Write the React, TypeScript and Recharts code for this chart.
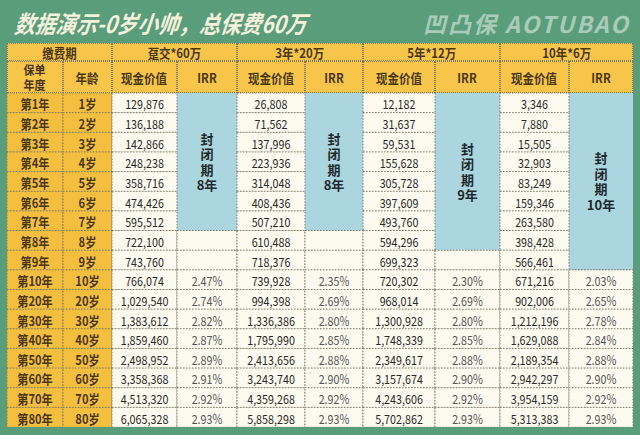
import React from 'react'
import { BarChart, Bar, XAxis, YAxis, ReferenceArea } from 'recharts'

const YEARS = ['第1年', '第2年', '第3年', '第4年', '第5年', '第6年', '第7年', '第8年', '第9年', '第10年', '第20年', '第30年', '第40年', '第50年', '第60年', '第70年', '第80年']
const AGES = ['1岁', '2岁', '3岁', '4岁', '5岁', '6岁', '7岁', '8岁', '9岁', '10岁', '20岁', '30岁', '40岁', '50岁', '60岁', '70岁', '80岁']
const PLANS = ['趸交*60万', '3年*20万', '5年*12万', '10年*6万']
const CLOSED_LABELS = ['8年', '8年', '9年', '10年']
const CLOSED_ROWS = [7, 7, 8, 9]

const CV_SINGLE = [129876, 136188, 142866, 248238, 358716, 474426, 595512, 722100, 743760, 766074, 1029540, 1383612, 1859460, 2498952, 3358368, 4513320, 6065328]
const CV_3Y = [26808, 71562, 137996, 223936, 314048, 408436, 507210, 610488, 718376, 739928, 994398, 1336386, 1795990, 2413656, 3243740, 4359268, 5858298]
const CV_5Y = [12182, 31637, 59531, 155628, 305728, 397609, 493760, 594296, 699323, 720302, 968014, 1300928, 1748339, 2349617, 3157674, 4243606, 5702862]
const CV_10Y = [3346, 7880, 15505, 32903, 83249, 159346, 263580, 398428, 566461, 671216, 902006, 1212196, 1629088, 2189354, 2942297, 3954159, 5313383]

// IRR starts from 第10年
const IRR_SINGLE = [2.47, 2.74, 2.82, 2.87, 2.89, 2.91, 2.92, 2.93]
const IRR_3Y = [2.35, 2.69, 2.8, 2.85, 2.88, 2.9, 2.92, 2.93]
const IRR_5Y = [2.3, 2.69, 2.8, 2.85, 2.88, 2.9, 2.92, 2.93]
const IRR_10Y = [2.03, 2.65, 2.78, 2.84, 2.88, 2.9, 2.92, 2.93]
const IRR_START = 9

const CASH = [CV_SINGLE, CV_3Y, CV_5Y, CV_10Y]
const IRRS = [IRR_SINGLE, IRR_3Y, IRR_5Y, IRR_10Y]

// layout
const COL_W = [56, 49, 65, 60, 68, 58, 72, 65, 69, 64]
const TOTAL_W = COL_W.reduce((a, b) => a + b, 0)
const COL_X = COL_W.map((_, i) => COL_W.slice(0, i).reduce((a, b) => a + b, 0))
const TABLE_X = 7
const H1_Y = 43
const H2_Y = 61
const BODY_Y = 93
const BODY_H = 334

const GREEN = '#5a9d7b'
const HEAD_YELLOW = '#f7c54a'
const SIDE_YELLOW = '#f4bf3e'
const CREAM = '#fdfbf0'
const BLUE = '#abd6df'
const BORDER = '#7d7a6a'
const BROWN = '#4a3714'
const FONT = '"Noto Sans CJK SC", "Noto Sans", sans-serif'

const rows = YEARS.map((year, r) => {
  const row: any = { year, age: AGES[r] }
  COL_W.forEach((w, i) => (row['w' + i] = w))
  return row
})

function cellInfo(col: number, r: number) {
  if (col === 0) return { text: YEARS[r], kind: 'side' }
  if (col === 1) return { text: AGES[r], kind: 'side' }
  const plan = Math.floor((col - 2) / 2)
  const isIrr = (col - 2) % 2 === 1
  if (!isIrr) return { text: CASH[plan][r].toLocaleString('en-US'), kind: 'cash' }
  if (r < CLOSED_ROWS[plan]) return { text: '', kind: 'closed' }
  if (r >= IRR_START) return { text: IRRS[plan][r - IRR_START].toFixed(2) + '%', kind: 'irr' }
  return { text: '', kind: 'irr' }
}

const makeCell = (col: number) => (p: any) => {
  let r = p.index
  if (r == null && p.payload) r = YEARS.indexOf(p.payload.year)
  const { x, y, width, height } = p
  const { text, kind } = cellInfo(col, r)
  // merged closed-period cells are painted by the ReferenceArea underneath
  if (kind === 'closed') return <g />
  const fill = kind === 'side' ? SIDE_YELLOW : CREAM
  const cx = x + width / 2
  const cy = y + height / 2
  return (
    <g>
      <rect x={x} y={y} width={width} height={height} fill={fill} />
      <rect x={x} y={y} width={width} height={height} fill="none" stroke={BORDER} strokeWidth={1} strokeDasharray="1.5 1.5" />
      {text && (
        <g transform={`translate(${cx} ${cy + 0.5}) scale(0.86 1)`}>
          <text
            x={0}
            y={0}
            textAnchor="middle"
            dominantBaseline="central"
            fontFamily={FONT}
            fontSize={kind === 'side' ? 13 : 12.5}
            fontWeight={kind === 'side' ? 700 : 400}
            fill={kind === 'side' ? BROWN : kind === 'irr' ? '#555' : '#2a2a2a'}
          >
            {text}
          </text>
        </g>
      )}
    </g>
  )
}

// vertical "封闭期N年" label inside the merged blue block
const closedLabel = (suffix: string) => (props: any) => {
  const vb = props.viewBox || {}
  return (
    <foreignObject x={vb.x} y={vb.y} width={vb.width} height={vb.height}>
      <div
        style={{
          width: '100%',
          height: '100%',
          display: 'flex',
          alignItems: 'center',
          justifyContent: 'center',
          textAlign: 'center',
          fontFamily: FONT,
          fontSize: 13,
          fontWeight: 700,
          lineHeight: '15.5px',
          color: '#1f2a2c',
        }}
      >
        <div>
          封<br />闭<br />期<br />{suffix}
        </div>
      </div>
    </foreignObject>
  )
}

const headCell = (left: number, top: number, width: number, height: number, text: React.ReactNode, key: string) => (
  <div
    key={key}
    style={{
      position: 'absolute',
      left,
      top,
      width,
      height,
      boxSizing: 'border-box',
      background: HEAD_YELLOW,
      border: `1px dotted ${BORDER}`,
      display: 'flex',
      alignItems: 'center',
      justifyContent: 'center',
      fontFamily: FONT,
      fontWeight: 700,
      fontSize: 13,
      color: BROWN,
      lineHeight: '15px',
      textAlign: 'center',
    }}
  >
    <span style={{ display: 'inline-block', transform: 'scaleX(0.88)' }}>{text}</span>
  </div>
)

export default function App() {
  const heads: React.ReactNode[] = []
  heads.push(headCell(TABLE_X, H1_Y, COL_W[0] + COL_W[1], H2_Y - H1_Y, '缴费期', 'h-pay'))
  heads.push(headCell(TABLE_X, H2_Y, COL_W[0], BODY_Y - H2_Y, <span style={{ fontSize: 12.5 }}>保单<br />年度</span>, 'h-year'))
  heads.push(headCell(TABLE_X + COL_X[1], H2_Y, COL_W[1], BODY_Y - H2_Y, '年龄', 'h-age'))
  PLANS.forEach((name, k) => {
    const c = 2 + k * 2
    heads.push(headCell(TABLE_X + COL_X[c], H1_Y, COL_W[c] + COL_W[c + 1], H2_Y - H1_Y, name, 'p' + k))
    heads.push(headCell(TABLE_X + COL_X[c], H2_Y, COL_W[c], BODY_Y - H2_Y, '现金价值', 'cv' + k))
    heads.push(headCell(TABLE_X + COL_X[c + 1], H2_Y, COL_W[c + 1], BODY_Y - H2_Y, 'IRR', 'irr' + k))
  })

  return (
    <div style={{ position: 'fixed', left: 0, top: 0, width: 640, height: 435, background: GREEN, overflow: 'hidden' }}>
      <div
        style={{
          position: 'absolute',
          left: 15,
          top: 8,
          fontFamily: FONT,
          fontStyle: 'italic',
          fontWeight: 700,
          fontSize: 24,
          color: '#f4f1dd',
          transform: 'scaleX(0.86) skewX(-8deg)',
          transformOrigin: 'left center',
          whiteSpace: 'nowrap',
          lineHeight: '30px',
        }}
      >
        数据演示-0岁小帅，总保费60万
      </div>
      <div
        style={{
          position: 'absolute',
          right: 10,
          top: 8,
          fontFamily: FONT,
          fontStyle: 'italic',
          fontWeight: 700,
          fontSize: 23,
          color: 'rgba(225, 236, 230, 0.6)',
          whiteSpace: 'nowrap',
          lineHeight: '30px',
          letterSpacing: 2,
        }}
      >
        凹凸保 AOTUBAO
      </div>
      {heads}
      <div style={{ position: 'absolute', left: TABLE_X, top: BODY_Y }}>
        <BarChart
          width={TOTAL_W}
          height={BODY_H}
          data={rows}
          layout="vertical"
          margin={{ top: 0, right: 0, bottom: 0, left: 0 }}
          barCategoryGap={0}
          barGap={0}
        >
          <XAxis type="number" hide domain={[0, TOTAL_W]} allowDataOverflow />
          <YAxis type="category" dataKey="year" hide width={0} />
          {PLANS.map((_, k) => {
            const c = 3 + k * 2
            return (
              <ReferenceArea
                key={'closed' + k}
                x1={COL_X[c]}
                x2={COL_X[c] + COL_W[c]}
                y1={YEARS[0]}
                y2={YEARS[CLOSED_ROWS[k] - 1]}
                fill={BLUE}
                fillOpacity={1}
                stroke="none"
                label={closedLabel(CLOSED_LABELS[k])}
              />
            )
          })}
          {COL_W.map((_, i) => (
            <Bar key={i} dataKey={'w' + i} stackId="t" isAnimationActive={false} shape={makeCell(i)} />
          ))}
        </BarChart>
      </div>
    </div>
  )
}
